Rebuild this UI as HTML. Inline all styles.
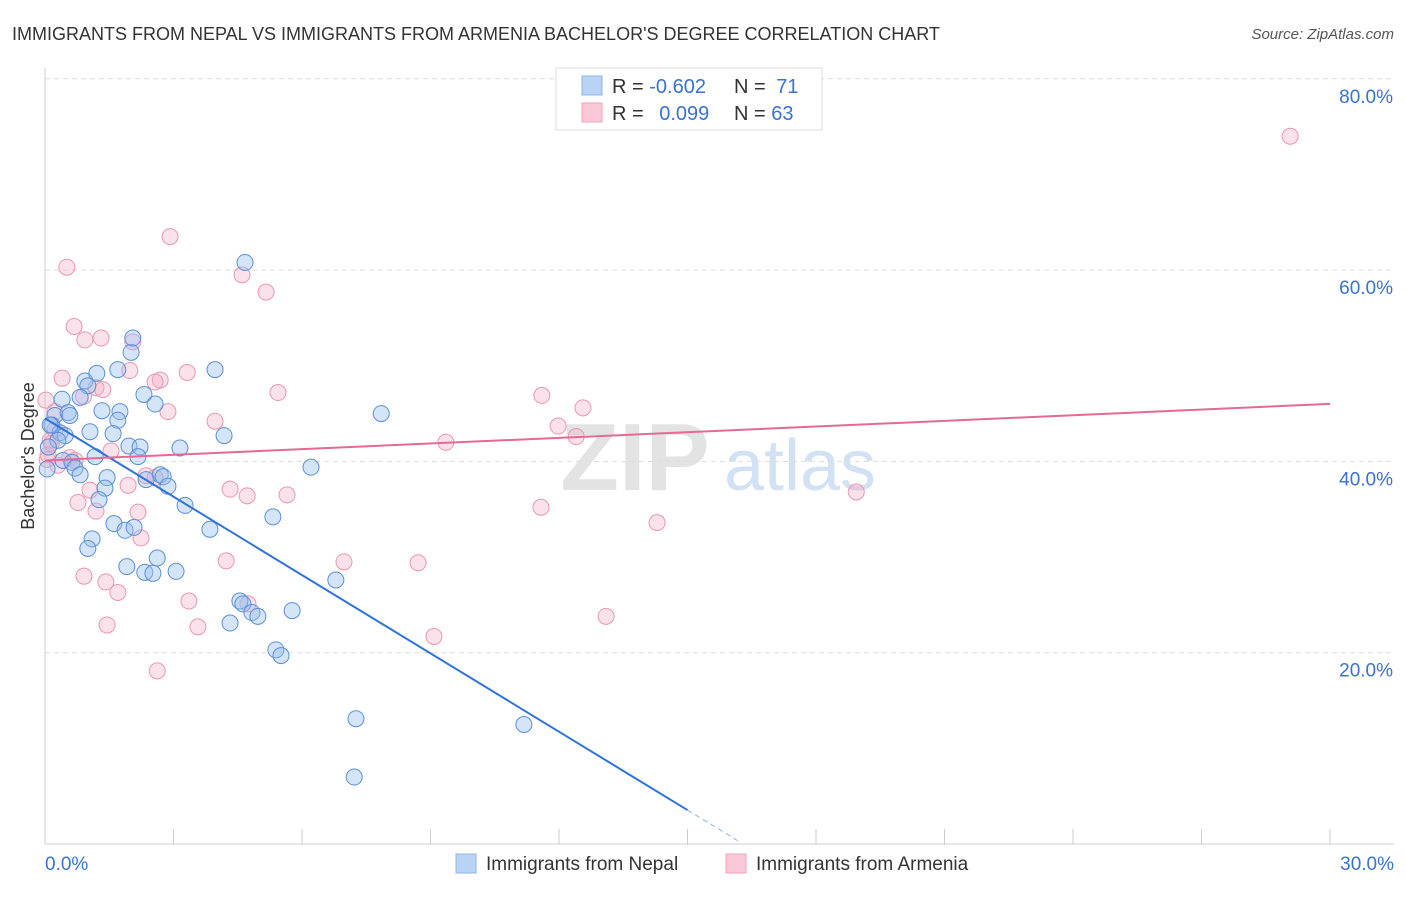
<!DOCTYPE html>
<html><head><meta charset="utf-8">
<style>
body{margin:0;background:#fff;font-family:"Liberation Sans",sans-serif;}
svg text{font-family:"Liberation Sans",sans-serif;}
</style></head>
<body>
<svg id="chart" width="1406" height="892" xmlns="http://www.w3.org/2000/svg">
<text x="12" y="40" font-size="18" fill="#333">IMMIGRANTS FROM NEPAL VS IMMIGRANTS FROM ARMENIA BACHELOR'S DEGREE CORRELATION CHART</text>
<text x="1394" y="39" font-size="15" fill="#555" text-anchor="end" font-style="italic">Source: ZipAtlas.com</text>
<g>
<text x="635" y="490" font-size="96" fill="#ddd" text-anchor="middle" font-family="Liberation Serif" font-weight="bold" opacity="0.8">ZIP</text>
<text x="800" y="490" font-size="72" fill="#c8daf2" text-anchor="middle" opacity="0.8">atlas</text>
</g>
<g id="grid"></g>
<g id="axes"></g>
<g id="points"></g>
<g id="lines"></g>
<text transform="translate(34,456) rotate(-90)" font-size="18" fill="#333" text-anchor="middle">Bachelor's Degree</text>
<g>
<rect x="556" y="68" width="266" height="62" fill="#fff" stroke="#ddd"/>
<rect x="582" y="76" width="20" height="19" fill="#b9d3f5" stroke="#8db4e8"/>
<rect x="582" y="103" width="20" height="19" fill="#fac8d7" stroke="#f0a0b8"/>
<text x="612" y="93" font-size="20" fill="#333">R = <tspan fill="#3a72d0">-0.602</tspan></text>
<text x="734" y="93" font-size="20" fill="#333">N = <tspan fill="#3a72d0" dx="5">71</tspan></text>
<text x="612" y="120" font-size="20" fill="#333">R = <tspan fill="#3a72d0" dx="10">0.099</tspan></text>
<text x="734" y="120" font-size="20" fill="#333">N = <tspan fill="#3a72d0">63</tspan></text>
</g>
<g>
<rect x="456" y="854" width="20" height="19" fill="#b9d3f5" stroke="#8db4e8"/>
<text x="486" y="870" font-size="19" fill="#333">Immigrants from Nepal</text>
<rect x="726" y="854" width="20" height="19" fill="#fac8d7" stroke="#f0a0b8"/>
<text x="756" y="870" font-size="19" fill="#333">Immigrants from Armenia</text>
</g>
</svg>
<script>
const yTicks=[20,40,60,80];
const yTickLabels=["20.0%","40.0%","60.0%","80.0%"];
const xTickLabels=["0.0%","30.0%"];
const nepalX=[0.40,0.23,0.54,0.58,0.16,0.35,0.47,1.05,0.30,0.42,0.63,0.70,0.82,1.17,0.93,1.21,1.00,0.82,1.33,1.70,1.75,1.70,1.59,1.96,2.22,2.17,2.01,2.05,2.31,2.57,2.69,2.76,2.87,2.36,3.15,3.97,4.18,3.27,1.45,1.40,1.26,1.10,1.00,1.61,1.87,2.08,1.91,2.33,2.52,2.62,3.06,3.85,4.67,4.55,4.62,4.32,4.83,4.97,5.32,5.77,6.21,5.39,5.51,6.79,7.85,7.26,7.22,11.18,0.12,0.05,0.08];
const nepalY=[46.5,44.8,45.1,44.8,43.8,43.0,42.7,43.1,42.2,40.1,39.9,39.3,38.6,40.5,48.4,49.2,47.9,46.7,45.3,49.6,45.2,44.3,42.9,41.6,41.5,40.5,51.4,52.9,47.0,46.0,38.6,38.4,37.4,38.1,41.4,49.6,42.7,35.4,38.3,37.2,36.0,31.9,30.9,33.5,32.8,33.1,29.0,28.4,28.3,29.9,28.5,32.9,60.8,25.4,25.1,23.1,24.2,23.8,34.2,24.4,39.4,20.3,19.7,27.6,45.0,13.1,7.0,12.5,43.8,39.2,41.5];
const armeniaX=[29.07,2.92,0.51,4.60,5.16,0.68,0.93,1.31,2.05,0.40,1.98,2.69,2.57,3.32,1.19,1.35,5.44,2.87,3.97,0.23,0.12,0.07,0.30,0.58,0.70,1.54,2.36,2.57,1.94,4.32,4.72,5.65,1.05,0.77,1.19,2.17,2.24,4.23,0.91,1.42,1.70,3.36,4.74,1.45,3.57,2.62,11.60,12.56,11.98,12.40,9.36,11.58,14.29,18.94,6.98,8.71,9.08,13.10,0.02,0.23,0.05,0.15,0.9];
const armeniaY=[74.0,63.5,60.3,59.5,57.7,54.1,52.7,52.9,52.5,48.7,49.5,48.5,48.3,49.3,47.7,47.5,47.2,45.2,44.2,45.2,42.2,40.7,39.6,40.4,40.1,41.1,38.5,38.3,37.5,37.1,36.4,36.5,37.0,35.7,34.8,34.7,32.0,29.6,28.0,27.4,26.3,25.4,25.1,22.9,22.7,18.1,46.9,45.6,43.7,42.6,42.0,35.2,33.6,36.8,29.5,29.4,21.7,23.8,46.4,43.3,40.2,41.9,46.8];
const nepalLine=[44.5,-2.73];
const armeniaLine=[40.1,0.197];
const NS="http://www.w3.org/2000/svg";
const xS=v=>45+v/30*1285;
const yS=v=>844-v/20*191.3;
function mk(t,a,p){const e=document.createElementNS(NS,t);for(const k in a)e.setAttribute(k,a[k]);p.appendChild(e);return e;}
const grid=document.getElementById('grid'),axes=document.getElementById('axes'),pts=document.getElementById('points'),lines=document.getElementById('lines');
yTicks.forEach((t,i)=>{
 const l=mk('line',{x1:45,x2:1394,y1:yS(t),y2:yS(t),stroke:'#ddd','stroke-dasharray':'5,4'},grid);
 
 
 const tx=mk('text',{x:1393,y:yS(t)+24,'font-size':19,fill:'#3a72d0','text-anchor':'end'},axes);
 tx.textContent=yTickLabels[i];
 
 
});
const ax=mk('line',{x1:45,x2:1394,y1:844,y2:844,stroke:'#ccc'},axes);


const ay=mk('line',{x1:45,x2:45,y1:68,y2:844,stroke:'#ccc'},axes);


for(let i=0;i<=10;i++){const tk=mk('line',{x1:xS(i*3),x2:xS(i*3),y1:829,y2:844,stroke:'#ccc'},axes);
 
 }
[[0,'start',45],[1,'end',1394]].forEach(([i,a,x])=>{const t=mk('text',{x:x,y:870,'font-size':19,fill:'#3a72d0','text-anchor':a},axes);t.textContent=xTickLabels[i];
 
 });
armeniaX.forEach((v,i)=>{const c=mk('circle',{cx:xS(v),cy:yS(armeniaY[i]),r:8,fill:'rgba(244,170,195,0.35)',stroke:'#eb97b2','stroke-width':1},pts);
 
 });
nepalX.forEach((v,i)=>{const c=mk('circle',{cx:xS(v),cy:yS(nepalY[i]),r:8,fill:'rgba(150,190,240,0.4)',stroke:'#5b8fd9','stroke-width':1},pts);
 
 });
const nEnd=15, nDash=16.2;
const l1=mk('line',{x1:xS(0),y1:yS(nepalLine[0]),x2:xS(nEnd),y2:yS(nepalLine[0]+nepalLine[1]*nEnd),stroke:'#2f74d8','stroke-width':2},lines);


const l2=mk('line',{x1:xS(nEnd),y1:yS(nepalLine[0]+nepalLine[1]*nEnd),x2:xS(nDash),y2:yS(nepalLine[0]+nepalLine[1]*nDash),stroke:'#8fb3e8','stroke-width':1,'stroke-dasharray':'5,4'},lines);


const l3=mk('line',{x1:xS(0),y1:yS(armeniaLine[0]),x2:xS(30),y2:yS(armeniaLine[0]+armeniaLine[1]*30),stroke:'#e46a94','stroke-width':2},lines);


</script>
</body></html>
